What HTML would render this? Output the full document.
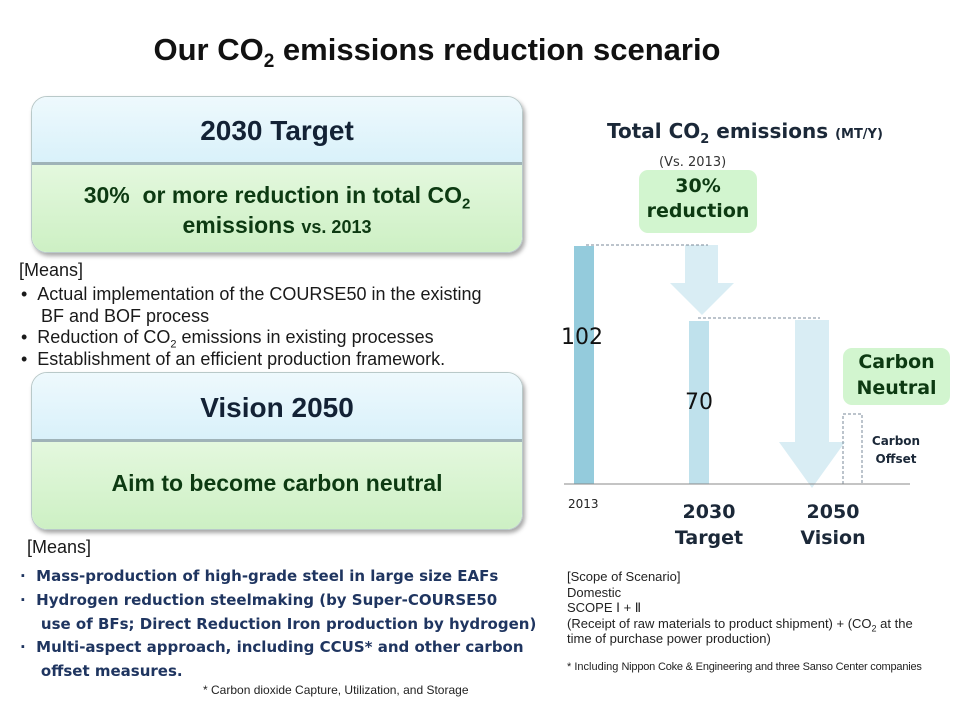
<!DOCTYPE html>
<html><head><meta charset="utf-8"><style>
body{margin:0;width:960px;height:720px;background:#fff;position:relative;overflow:hidden;font-family:"Liberation Sans",sans-serif;}
.a{position:absolute;white-space:nowrap;}
.box{position:absolute;left:31px;width:490px;border-radius:16px;overflow:hidden;box-shadow:2px 3px 4px rgba(0,0,0,0.35);border:1px solid #b9c9c9;}
.top{background:linear-gradient(#eef9fd,#d9f1fa);text-align:center;color:#132235;font-weight:bold;font-size:28px;border-bottom:3px solid #9fb3b8;box-sizing:border-box;}
.bot{background:linear-gradient(#e4f8de,#cdf0c4);text-align:center;color:#0d3a12;font-weight:bold;font-size:23px;}
.v{font-family:"DejaVu Sans",sans-serif;}
.m{font-size:18px;color:#1a1a1a;}
.b{font-family:"DejaVu Sans",sans-serif;font-weight:bold;font-size:15px;color:#1f3560;}
sub{line-height:0;}
</style></head><body>
<div class="a" style="left:0;width:874px;top:32px;text-align:center;font-weight:bold;font-size:31px;color:#111;">Our CO<sub style="font-size:19px">2</sub> emissions reduction scenario</div>

<div class="box" style="top:96px;height:155px;">
 <div class="top" style="height:68px;line-height:68px;">2030 Target</div>
 <div class="bot" style="height:87px;padding-top:15px;box-sizing:border-box;line-height:30px;">30%&nbsp; or more reduction in total CO<sub style="font-size:15px">2</sub><br>emissions <span style="font-size:18px">vs. 2013</span></div>
</div>
<div class="a m" style="left:19px;top:260px;">[Means]</div>
<div class="a m" style="left:21px;top:284px;line-height:21.5px;">•&nbsp;&nbsp;Actual implementation of the COURSE50 in the existing<br>&nbsp;&nbsp;&nbsp;&nbsp;BF and BOF process<br>•&nbsp;&nbsp;Reduction of CO<sub style="font-size:11px">2</sub> emissions in existing processes<br>•&nbsp;&nbsp;Establishment of an efficient production framework.</div>

<div class="box" style="top:372px;height:156px;">
 <div class="top" style="height:69px;line-height:69px;">Vision 2050</div>
 <div class="bot" style="height:87px;line-height:82px;">Aim to become carbon neutral</div>
</div>
<div class="a m" style="left:27px;top:537px;">[Means]</div>
<div class="a b" style="left:20px;top:565px;line-height:23.8px;">·&nbsp;&nbsp;Mass-production of high-grade steel in large size EAFs<br>·&nbsp;&nbsp;Hydrogen reduction steelmaking (by Super-COURSE50<br>&nbsp;&nbsp;&nbsp;&nbsp;use of BFs; Direct Reduction Iron production by hydrogen)<br>·&nbsp;&nbsp;Multi-aspect approach, including CCUS* and other carbon<br>&nbsp;&nbsp;&nbsp;&nbsp;offset measures.</div>
<div class="a" style="left:203px;top:683px;font-size:12px;color:#222;">* Carbon dioxide Capture, Utilization, and Storage</div>

<div class="a v" style="left:607px;top:119px;font-weight:bold;font-size:20px;color:#1b2838;">Total CO<sub style="font-size:13px">2</sub> emissions <span style="font-size:13px">(MT/Y)</span></div>
<div class="a v" style="left:659px;top:155px;font-size:13px;color:#333;">(Vs. 2013)</div>

<svg class="a" style="left:0;top:0" width="960" height="720">
 <rect x="639" y="170" width="118" height="63" rx="9" fill="#d2f5cf"/>
 <rect x="843" y="348" width="107" height="57" rx="9" fill="#d2f5cf"/>
 <rect x="574" y="246" width="20" height="238" fill="#94cbdc"/>
 <rect x="689" y="321" width="20" height="163" fill="#bfe1ec"/>
 <polygon points="685,245 718,245 718,283 734,283 702,315 670,283 685,283" fill="#d9edf4"/>
 <polygon points="795,320 829,320 829,442 845,442 812,488 779,442 795,442" fill="#d9edf4"/>
 <line x1="586" y1="245" x2="708" y2="245" stroke="#7a8a99" stroke-dasharray="3,2"/>
 <line x1="698" y1="318" x2="820" y2="318" stroke="#7a8a99" stroke-dasharray="3,2"/>
 <polyline points="843,484 843,414 862,414 862,484" fill="none" stroke="#7a8a99" stroke-dasharray="3,2"/>
 <line x1="564" y1="484" x2="910" y2="484" stroke="#888"/>
</svg>
<div class="a v" style="left:643px;top:174px;width:110px;text-align:center;font-weight:bold;font-size:19px;line-height:25px;color:#0d3a12;">30%<br>reduction</div>
<div class="a v" style="left:843px;top:349px;width:107px;text-align:center;font-weight:bold;font-size:19px;line-height:26px;color:#0d3a12;">Carbon<br>Neutral</div>
<div class="a v" style="left:561px;top:325px;font-size:22px;color:#111;">102</div>
<div class="a v" style="left:685px;top:390px;font-size:22px;color:#111;">70</div>
<div class="a v" style="left:568px;top:497px;font-size:12px;color:#222;">2013</div>
<div class="a v" style="left:659px;top:499px;width:100px;text-align:center;font-weight:bold;font-size:19px;line-height:26px;color:#1b2838;">2030<br>Target</div>
<div class="a v" style="left:783px;top:499px;width:100px;text-align:center;font-weight:bold;font-size:19px;line-height:26px;color:#1b2838;">2050<br>Vision</div>
<div class="a v" style="left:856px;top:432px;width:80px;text-align:center;font-weight:bold;font-size:12px;line-height:18px;color:#1b2838;">Carbon<br>Offset</div>

<div class="a" style="left:567px;top:569px;font-size:13px;line-height:15.5px;color:#222;">[Scope of Scenario]<br>Domestic<br>SCOPE Ⅰ + Ⅱ<br>(Receipt of raw materials to product shipment) + (CO<sub style="font-size:9px">2</sub> at the<br>time of purchase power production)</div>
<div class="a" style="left:567px;top:661px;font-size:11px;color:#222;">* Including <span style="font-size:11px;letter-spacing:-0.2px">Nippon Coke &amp; Engineering and three Sanso Center companies</span></div>
</body></html>
